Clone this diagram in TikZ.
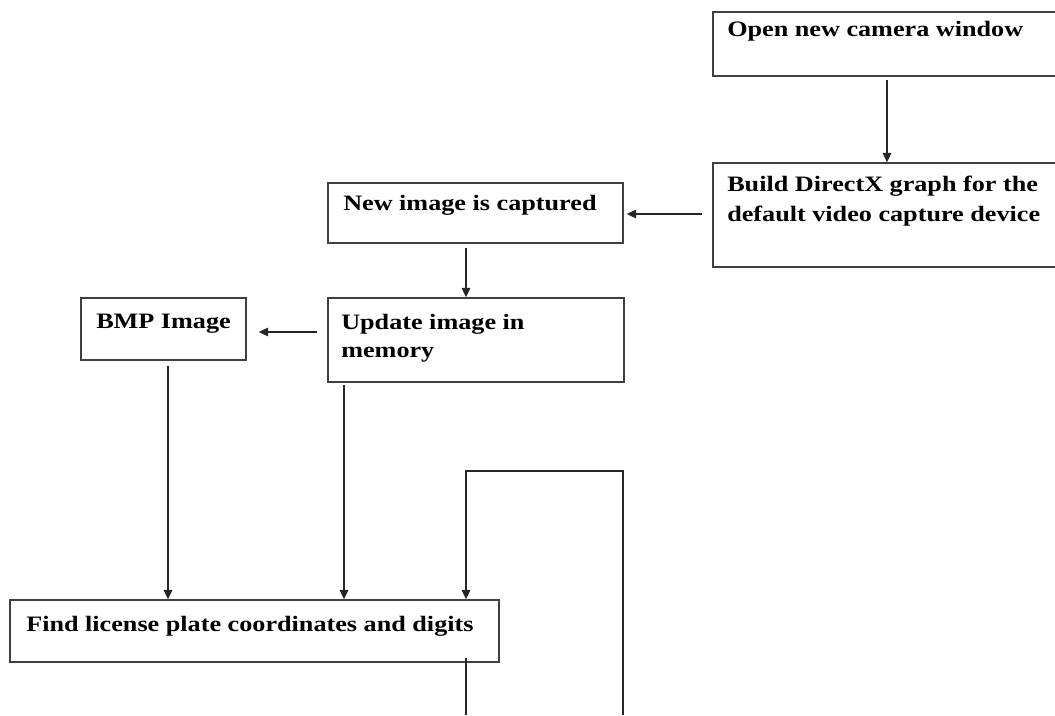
\documentclass[tikz,border=0pt]{standalone}
\usepackage{fontspec}
\setmainfont{Liberation Serif}[FakeStretch=1.19]
\usetikzlibrary{arrows.meta,fit}
\begin{document}
\begin{tikzpicture}[x=0.75pt,y=-0.75pt,
  box/.style={draw=black!75,line width=1.1pt,rectangle,inner sep=0pt},
  lbl/.style={inner sep=0pt,anchor=base west,font=\fontsize{16.5}{20}\selectfont\bfseries},
  arr/.style={draw=black!85,line width=0.8pt,-{Triangle[width=6.5pt,length=7pt]}},
  wire/.style={draw=black!85,line width=0.8pt}]
\useasboundingbox (0,0) rectangle (1055,715);
\clip (0,0) rectangle (1055,715);

% process boxes
\node[box,fit={(713,12) (1080,76)}] (b1) {};
\node[box,fit={(713,163) (1080,267)}] (b2) {};
\node[box,fit={(328,183) (623,243)}] (b3) {};
\node[box,fit={(328,298) (624,382)}] (b4) {};
\node[box,fit={(81,298) (246,360)}] (b5) {};
\node[box,fit={(10,600) (499,662)}] (b6) {};

% box texts
\node[lbl] (t1) at (727,36) {Open new camera window};
\node[lbl] (t2a) at (727,191) {Build DirectX graph for the};
\node[lbl] (t2b) at (727,221) {default video capture device};
\node[lbl] (t3) at (343,210) {New image is captured};
\node[lbl] (t4a) at (341,329) {Update image in};
\node[lbl] (t4b) at (341,357) {memory};
\node[lbl] (t5) at (96,328) {BMP Image};
\node[lbl] (t6) at (26,631) {Find license plate coordinates and digits};

% loose ends running off the bottom
\coordinate (lb) at (623,715);
\coordinate (lt) at (466,471);
\coordinate (lo) at (466,715);

% connectors
\draw[arr,shorten <=2.25pt] (887,0 |- b1.south) -- (887,0 |- b2.north);
\draw[arr,shorten <=7.5pt,shorten >=2.25pt] (b2.west |- 0,214) -- (b3.east |- 0,214);
\draw[arr,shorten <=3pt] (466,0 |- b3.south) -- (466,0 |- b4.north);
\draw[arr,shorten <=7.5pt,shorten >=9pt] (b4.west |- 0,332) -- (b5.east |- 0,332);
\draw[arr,shorten <=3.75pt] (168,0 |- b5.south) -- (168,0 |- b6.north);
\draw[arr,shorten <=1.5pt] (344,0 |- b4.south) -- (344,0 |- b6.north);
\draw[arr] (lb) |- (lt) -- (466,0 |- b6.north);
\draw[wire,shorten <=-3.75pt] (466,0 |- b6.south) -- (lo);
\end{tikzpicture}
\end{document}
